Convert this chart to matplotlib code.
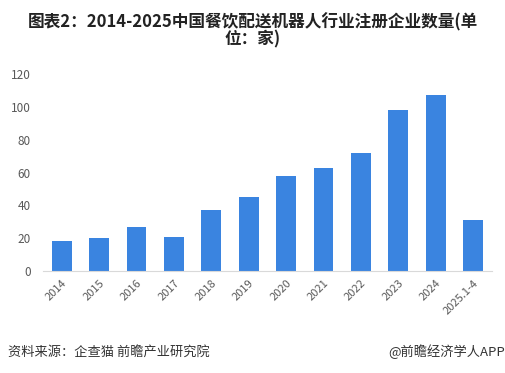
import matplotlib
matplotlib.use("Agg")
import matplotlib.pyplot as plt

plt.rcParams['font.family'] = ['Noto Sans CJK SC', 'DejaVu Sans']

categories = ["2014", "2015", "2016", "2017", "2018", "2019", "2020",
              "2021", "2022", "2023", "2024", "2025.1-4"]
values = [18, 20, 27, 21, 37, 45, 58, 63, 72, 98, 107, 31]
yticks = [0, 20, 40, 60, 80, 100, 120]

title = "图表2：2014-2025中国餐饮配送机器人行业注册企业数量(单\n位：家)"
source = "资料来源：企查猫 前瞻产业研究院"
credit = "@前瞻经济学人APP"

fig = plt.figure(figsize=(5.06, 3.73), dpi=100)
ax = fig.add_axes([0.085, 0.2735, 0.887, 0.528])

x = range(len(categories))
ax.bar(x, values, width=0.53, color="#3a84e0", zorder=2)
ax.set_xlim(-0.5, len(categories) - 0.5)
ax.set_ylim(0, 120)
ax.set_yticks(yticks)
ax.set_yticklabels([str(v) for v in yticks], fontsize=8.5, color="#595959")
ax.set_xticks(list(x))
ax.set_xticklabels(categories, rotation=45, ha="right", rotation_mode="anchor",
                   fontsize=8, color="#595959")
ax.tick_params(axis="y", length=0, pad=9)
ax.tick_params(axis="x", length=0, pad=5)
for s in ["top", "right", "left"]:
    ax.spines[s].set_visible(False)
ax.spines["bottom"].set_color("#d9d9d9")
ax.spines["bottom"].set_linewidth(0.8)

fig.text(0.5, 0.918, title, ha="center", va="center", fontsize=12,
         fontweight="bold", color="#222222", linespacing=0.9)
fig.text(0.015, 0.056, source, ha="left", va="center", fontsize=9.5, color="#333333")
fig.text(0.998, 0.056, credit, ha="right", va="center", fontsize=9.5, color="#333333")

fig.savefig("out.png", dpi=100)
